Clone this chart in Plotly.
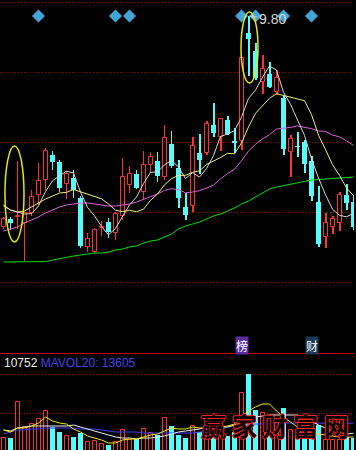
import plotly.graph_objects as go

# ---------------- data ----------------
open_p = [7.69, 7.77, 7.79, 7.73, 7.83, 8.01, 8.16, 8.41, 8.34, 8.12,
          8.18, 7.98, 7.49, 7.44, 7.68, 7.74, 7.63, 7.80, 8.11, 8.22,
          8.04, 8.31, 8.35, 8.19, 8.52, 8.28, 7.89, 7.90, 8.43, 8.43,
          8.71, 8.59, 8.76, 8.55, 8.55, 9.63, 9.45, 9.14, 9.22, 9.04,
          8.98, 8.44, 8.50, 8.54, 8.35, 7.94, 7.59, 7.69, 7.73, 8.01, 7.94]
high_p = [7.79, 7.79, 8.35, 7.84, 8.06, 8.33, 8.48, 8.45, 8.36, 8.25,
          8.26, 8.00, 7.63, 7.68, 7.75, 7.78, 7.84, 8.38, 8.30, 8.26,
          8.45, 8.44, 8.44, 8.71, 8.65, 8.36, 8.03, 8.59, 8.62, 8.75,
          8.93, 8.78, 8.80, 8.68, 9.38, 9.80, 9.53, 9.41, 9.34, 9.26,
          9.00, 8.61, 8.64, 8.56, 8.40, 8.10, 7.83, 7.80, 8.04, 8.12, 8.01]
low_p = [7.67, 7.66, 7.67, 7.35, 7.80, 7.91, 8.06, 8.26, 8.04, 7.97,
         7.98, 7.48, 7.44, 7.42, 7.60, 7.58, 7.56, 7.76, 8.03, 8.07,
         7.97, 8.24, 8.14, 8.16, 8.28, 7.88, 7.76, 7.84, 8.22, 8.41,
         8.59, 8.45, 8.61, 8.43, 8.46, 9.20, 9.16, 9.02, 9.08, 9.01,
         8.41, 8.19, 8.39, 8.23, 7.95, 7.49, 7.48, 7.62, 7.65, 7.86, 7.66]
close_p = [7.77, 7.73, 7.80, 7.83, 7.99, 8.15, 8.45, 8.34, 8.08, 8.22,
           8.06, 7.50, 7.57, 7.66, 7.69, 7.64, 7.82, 8.19, 8.22, 8.08,
           8.31, 8.39, 8.20, 8.58, 8.30, 7.98, 7.81, 8.50, 8.36, 8.72,
           8.63, 8.77, 8.62, 8.53, 9.38, 9.57, 9.18, 9.27, 9.09, 9.18,
           8.47, 8.57, 8.49, 8.32, 8.00, 7.52, 7.73, 7.77, 8.01, 7.93, 7.69]

ma5 = [7.91, 7.86, 7.84, 7.82, 7.824, 7.90, 8.044, 8.152, 8.202, 8.248,
       8.23, 8.04, 7.886, 7.802, 7.696, 7.612, 7.676, 7.80, 7.912, 7.99,
       8.124, 8.238, 8.24, 8.312, 8.356, 8.29, 8.174, 8.234, 8.19, 8.274,
       8.404, 8.596, 8.62, 8.654, 8.788, 8.976, 9.058, 9.188, 9.30, 9.258,
       9.038, 8.916, 8.76, 8.606, 8.37, 8.18, 8.012, 7.868, 7.806, 7.792, 7.826]
ma10 = [7.90, 7.86, 7.84, 7.85, 7.89, 7.93, 7.97, 8.00, 8.03, 8.036,
        8.065, 8.042, 8.019, 8.002, 7.972, 7.921, 7.858, 7.843, 7.857, 7.843,
        7.868, 7.957, 8.02, 8.112, 8.173, 8.207, 8.206, 8.237, 8.251, 8.315,
        8.347, 8.385, 8.427, 8.422, 8.531, 8.69, 8.827, 8.904, 8.977, 9.023,
        9.007, 8.987, 8.974, 8.953, 8.814, 8.609, 8.464, 8.314, 8.206, 8.081, 8.003]
ma20 = [7.65, 7.67, 7.69, 7.73, 7.76, 7.79, 7.83, 7.86, 7.89, 7.91,
        7.92, 7.93, 7.93, 7.92, 7.91, 7.90, 7.90, 7.91, 7.92, 7.940,
        7.967, 8.000, 8.020, 8.057, 8.073, 8.064, 8.032, 8.040, 8.054, 8.079,
        8.108, 8.171, 8.224, 8.267, 8.352, 8.449, 8.517, 8.571, 8.614, 8.669,
        8.677, 8.686, 8.701, 8.688, 8.673, 8.650, 8.646, 8.609, 8.592, 8.552, 8.505]
ma60 = [7.34, 7.34, 7.34, 7.34, 7.34, 7.34, 7.345, 7.36, 7.375, 7.39,
        7.40, 7.41, 7.42, 7.43, 7.43, 7.44, 7.46, 7.47, 7.49, 7.50,
        7.53, 7.55, 7.56, 7.59, 7.62, 7.67, 7.70, 7.72, 7.74, 7.77,
        7.80, 7.82, 7.85, 7.88, 7.92, 7.95, 7.99, 8.03, 8.07, 8.09,
        8.105, 8.12, 8.135, 8.15, 8.16, 8.165, 8.17, 8.175, 8.18, 8.185, 8.19]

volume = [9405, 9405, 19665, 12540, 13395, 14820, 17100, 12540, 11115, 9975,
          9690, 10830, 8265, 8550, 7695, 7410, 8265, 11685, 8835, 9120,
          11970, 10830, 10260, 15105, 12825, 10260, 9405, 12825, 11115, 12255,
          11115, 11685, 9975, 11115, 22230, 27645, 17385, 16530, 13680, 13965,
          17955, 11685, 10260, 9120, 9975, 13110, 8835, 8835, 8835, 9690, 9405]
mavol5 = [11685, 11115, 12255, 12255, 12825, 13680, 15390, 14250, 13680, 13395,
          11970, 11115, 9975, 9405, 8835, 7980, 7980, 8835, 9120, 9120,
          9690, 10260, 10545, 11400, 12255, 11970, 11970, 12540, 12255, 12255,
          12540, 12540, 12825, 13395, 15675, 17100, 18240, 19095, 19095, 17100,
          15390, 13965, 12540, 11685, 10830, 10545, 10260, 9975, 9690, 9690, 9690]
mavol10 = [11685, 11400, 12255, 12540, 12825, 12825, 12825, 12825, 12825, 12825,
           13110, 12540, 11970, 11400, 10830, 10260, 9690, 9405, 9405, 9120,
           9405, 9405, 9690, 9975, 10545, 11115, 11400, 11685, 11970, 12540,
           12540, 12540, 12540, 13110, 13965, 14535, 15390, 15675, 15960, 15960,
           15960, 15960, 15960, 15390, 14250, 13110, 12255, 11685, 11115, 10545, 10752]
mavol20 = [10545, 11115, 11685, 11685, 11970, 11970, 12255, 12255, 12255, 12255,
           12255, 11970, 11970, 11970, 11685, 11400, 11115, 11115, 11115, 11115,
           10830, 10830, 10830, 10830, 10830, 10830, 10830, 10830, 11115, 11400,
           11970, 12255, 12540, 12825, 13110, 13110, 13395, 13395, 13680, 13680,
           13680, 13650, 13640, 13630, 13620, 13615, 13610, 13608, 13606, 13605, 13605]

event_idx = [5, 16, 18, 34, 36, 40, 44]     # info-mine diamonds
tag_idx = [34, 44]
tag_text = ["榜", "财"]
watermark = "赢 家 财 富 网"

# ---------------- styles ----------------
RED = "#ff3232"
CYAN = "#54fcfc"
GRID = "#a00000"
WICK_W = 1 / 7
UP_W = 4 / 7
DN_W = 5 / 7
MARK_LEVEL = 0.955
TAG_BG = ["#5a2ca0", "#1e3858"]

n = len(close_p)
xi = list(range(n))
up = [c >= o for o, c in zip(open_p, close_p)]
iu = [i for i in xi if up[i]]
idn = [i for i in xi if not up[i]]

fig = go.Figure()

# wicks (thin bars)
for sel, col in ((iu, RED), (idn, CYAN)):
    fig.add_trace(go.Bar(x=sel, base=[low_p[i] for i in sel],
                         y=[high_p[i] - low_p[i] for i in sel], width=WICK_W,
                         marker=dict(color=col, line=dict(width=0)),
                         xaxis="x", yaxis="y", hoverinfo="skip"))
# bodies
fig.add_trace(go.Bar(x=iu, base=[open_p[i] for i in iu],
                     y=[max(close_p[i] - open_p[i], 0.005) for i in iu], width=UP_W,
                     marker=dict(color="black", line=dict(color=RED, width=1)),
                     xaxis="x", yaxis="y", hoverinfo="skip"))
fig.add_trace(go.Bar(x=idn, base=[close_p[i] for i in idn],
                     y=[max(open_p[i] - close_p[i], 0.005) for i in idn], width=DN_W,
                     marker=dict(color=CYAN, line=dict(width=0)),
                     xaxis="x", yaxis="y", hoverinfo="skip"))

# volume bars
fig.add_trace(go.Bar(x=iu, y=[volume[i] for i in iu], width=UP_W,
                     marker=dict(color="black", line=dict(color=RED, width=1)),
                     xaxis="x2", yaxis="y2", hoverinfo="skip"))
fig.add_trace(go.Bar(x=idn, y=[volume[i] for i in idn], width=DN_W,
                     marker=dict(color=CYAN, line=dict(width=0)),
                     xaxis="x2", yaxis="y2", hoverinfo="skip"))

# MA lines
for arr, col in ((ma60, "#00e000"), (ma20, "#e060e0"), (ma10, "#f0f070"), (ma5, "#d8d8d8")):
    fig.add_trace(go.Scatter(x=xi, y=arr, mode="lines", line=dict(color=col, width=1),
                             xaxis="x", yaxis="y", hoverinfo="skip"))
for arr, col in ((mavol20, "#4040ff"), (mavol10, "#f0f0f0"), (mavol5, "#f0f000")):
    fig.add_trace(go.Scatter(x=xi, y=arr, mode="lines", line=dict(color=col, width=1),
                             xaxis="x2", yaxis="y2", hoverinfo="skip"))

# event diamonds
fig.add_trace(go.Scatter(x=event_idx, y=[MARK_LEVEL] * len(event_idx), mode="markers",
                         marker=dict(symbol="diamond", size=10, color="#3fa6d9"),
                         xaxis="x", yaxis="y3", hoverinfo="skip"))

hi_i = max(xi, key=lambda i: high_p[i])
annotations = [
    dict(x=hi_i, y=high_p[hi_i], xref="x", yref="y", text=f"{high_p[hi_i]:.2f}",
         showarrow=True, ax=24, ay=3, arrowhead=2, arrowsize=0.8, arrowwidth=1,
         arrowcolor="#c8c8c8", standoff=1,
         font=dict(family="Liberation Sans", size=14, color="#d8d8d8")),
    dict(x=0.006, y=1 - 363 / 450, xref="paper", yref="paper", xanchor="left", yanchor="middle",
         showarrow=False,
         text=(f'<span style="color:#f0f0f0">{mavol10[-1]}</span> '
               f'<span style="color:#4444e8">MAVOL20: {mavol20[-1]}</span>'),
         font=dict(family="Liberation Sans", size=12)),
    dict(x=0.777, y=1 - 425 / 450, xref="paper", yref="paper", xanchor="center",
         yanchor="middle", showarrow=False, text=watermark,
         font=dict(family="Noto Sans CJK SC", size=25, color="black", weight="bold",
                   shadow="1px 0 #ff2020, -1px 0 #ff2020, 0 1px #ff2020, 0 -1px #ff2020")),
]
for k, t in enumerate(tag_text):
    annotations.append(dict(x=tag_idx[k], y=1 - 345.5 / 450, xref="x", yref="paper",
                            xanchor="center", yanchor="middle",
                            text=t, showarrow=False, bgcolor=TAG_BG[k], borderpad=0,
                            font=dict(family="Noto Sans CJK SC", size=12, color="white")))

shapes = []
for (x0, x1, y0, y1) in ((0.21, 2.93, 7.54, 8.50), (33.93, 36.36, 9.13, 9.84)):
    shapes.append(dict(type="circle", xref="x", yref="y", x0=x0, x1=x1, y0=y0, y1=y1,
                       line=dict(color="#e8e800", width=1.5)))

axis_common = dict(showticklabels=False, ticks="", zeroline=False, fixedrange=True)
fig.update_layout(
    width=356, height=450, margin=dict(l=0, r=2, t=0, b=0),
    paper_bgcolor="black", plot_bgcolor="black", showlegend=False,
    barmode="overlay", bargap=0,
    xaxis=dict(domain=[0, 1], range=[-0.5, 50.07], anchor="y", showgrid=False,
               showline=True, linecolor="#c00000", linewidth=1, **axis_common),
    yaxis=dict(domain=[1 - 353 / 450, 1], range=[6.43, 9.96], tick0=6.44, dtick=0.7,
               showgrid=True, gridcolor=GRID, griddash="1px,2px", gridwidth=1,
               showline=False, **axis_common),
    xaxis2=dict(matches="x", anchor="y2", showgrid=False, showline=False, **axis_common),
    yaxis2=dict(domain=[0, 1 - 355 / 450], range=[5985, 33060], tick0=16530, dtick=11115,
                showgrid=True, gridcolor=GRID, griddash="1px,2px", gridwidth=1,
                showline=False, **axis_common),
    yaxis3=dict(overlaying="y", range=[0, 1], visible=False, fixedrange=True),
    annotations=annotations, shapes=shapes,
)

fig.write_html("out.html")
